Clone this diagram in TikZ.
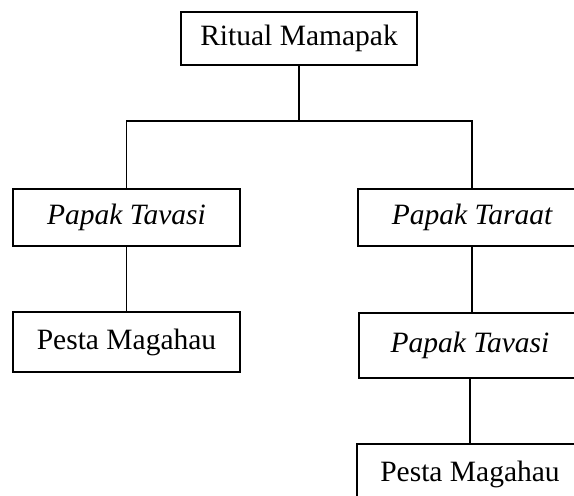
\documentclass[tikz,border=0pt]{standalone}
\usepackage{fontspec}
\setmainfont{Liberation Serif}

\begin{document}
\begin{tikzpicture}[x=1pt, y=-1pt, line width=1.2pt,
  kotak/.style={draw, inner sep=0pt, minimum width=227pt, minimum height=57pt,
    font=\fontsize{29.5}{34}\selectfont}]
\useasboundingbox[clip] (0,0) rectangle (574,496);

\node[kotak, minimum width=236pt, minimum height=53pt] (ritual) at (299,38.5) {Ritual Mamapak};

\node[kotak] (tavasiA) at (126.5,217.5) {\itshape Papak Tavasi};
\node[kotak, minimum height=60pt] (pestaA) at (126.5,342) {Pesta Magahau};

\node[kotak, minimum width=228pt] (taraat) at (472,217.5) {\itshape Papak Taraat};
\node[kotak, minimum width=222pt, minimum height=65pt] (tavasiB) at (470,345.5) {\itshape Papak Tavasi};
\node[kotak, minimum width=226pt, minimum height=60pt] (pestaB) at (470,474) {Pesta Magahau};

\coordinate (cabang) at (299,121);
\draw (ritual.south) -- (cabang);
\draw (cabang) -| (tavasiA.north);
\draw (cabang) -| (taraat.north);
\draw (tavasiA.south) -- (pestaA.north);
\draw (taraat.south) -- (taraat.south |- tavasiB.north);
\draw (tavasiB.south) -- (pestaB.north);
\end{tikzpicture}
\end{document}
